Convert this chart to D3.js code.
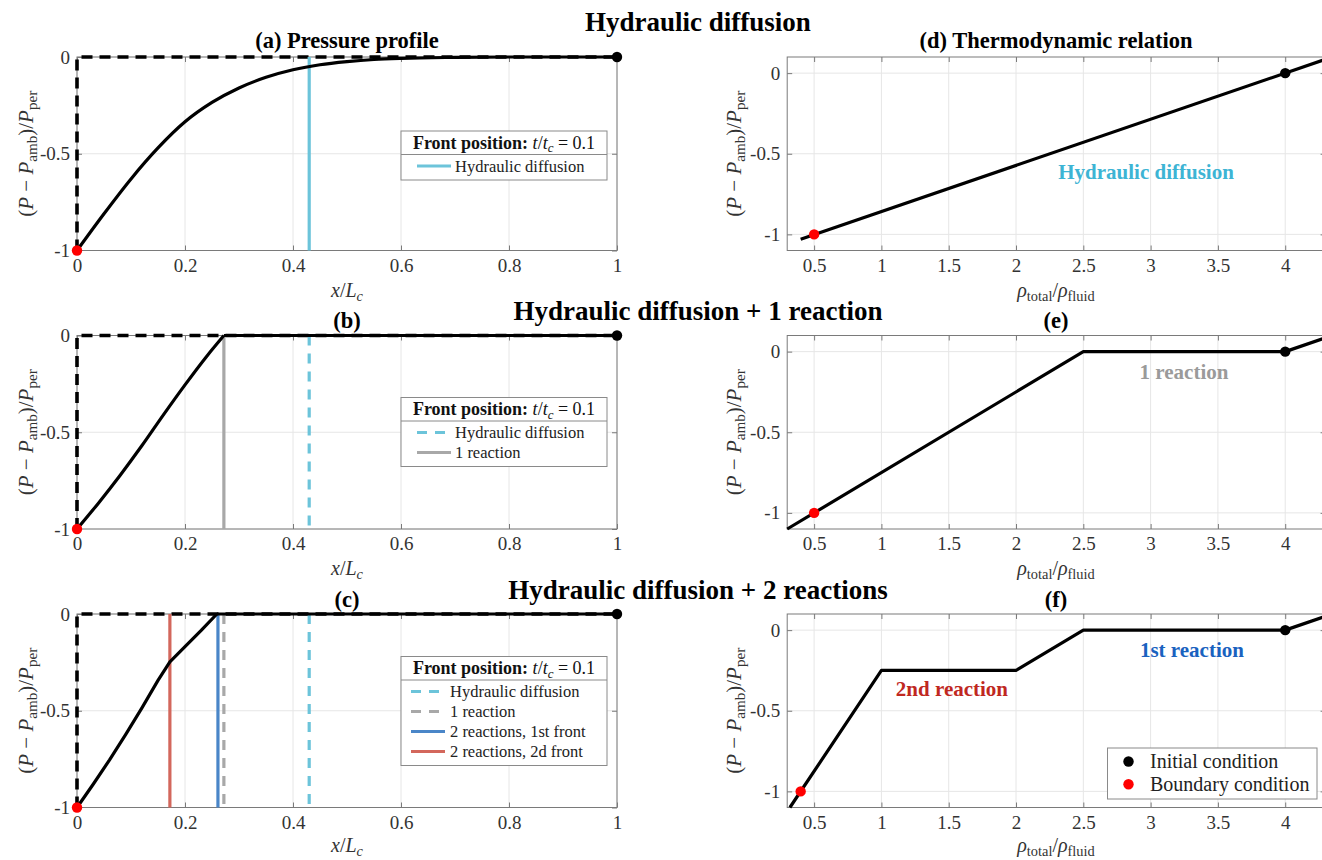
<!DOCTYPE html>
<html>
<head>
<meta charset="utf-8">
<script src="https://cdn.jsdelivr.net/npm/d3@7"></script>
<style>
body { margin: 0; background: #fff; }
text { font-family: "Liberation Serif", "DejaVu Serif", serif; }
</style>
</head>
<body>
<script>
// ---- values ----
var xTicksL = [0, 0.2, 0.4, 0.6, 0.8, 1];
var yTicksL = [-1, -0.5, 0];
var xTicksR = [0.5, 1, 1.5, 2, 2.5, 3, 3.5, 4];
var yTicksR = [-1, -0.5, 0];

// pressure profiles, x/Lc -> (P-Pamb)/Pper
var profA_x = [0, 0.05, 0.1, 0.15, 0.2, 0.25, 0.3, 0.35, 0.4, 0.45, 0.5, 0.55, 0.6, 0.7, 0.8, 1];
var profA_y = [-1, -0.81, -0.63, -0.47, -0.335, -0.235, -0.16, -0.105, -0.066, -0.04, -0.024, -0.013, -0.007, -0.002, 0, 0];
var profB_x = [0, 0.04, 0.08, 0.12, 0.16, 0.2, 0.24, 0.272];
var profB_y = [-1, -0.865, -0.722, -0.57, -0.41, -0.255, -0.108, 0];
var profC_x = [0, 0.03, 0.06, 0.09, 0.12, 0.15, 0.172, 0.2, 0.23, 0.259];
var profC_y = [-1, -0.88, -0.755, -0.623, -0.486, -0.343, -0.247, -0.169, -0.085, 0];
var initX = [0, 0, 1];
var initY = [-1, 0, 0];

// front positions at t/tc = 0.1
var frontDiff = 0.43;
var front1 = 0.272;
var front2first = 0.261;
var front2second = 0.172;

// thermodynamic relations, rho_total/rho_fluid -> (P-Pamb)/Pper
var relD_rho = [0.4, 4.3];
var relD_p = [-1.03, 0.086];
var relE_rho = [0.3, 2.5, 4, 4.3];
var relE_p = [-1.1, 0, 0, 0.086];
var relF_rho = [0.32, 1, 2, 2.5, 4, 4.3];
var relF_p = [-1.1, -0.25, -0.25, 0, 0, 0.086];

// initial / boundary condition points
var icL = [1, 0], bcL = [0, -1];
var icR = [4, 0];
var bcD = [0.5, -1], bcE = [0.5, -1], bcF = [0.4, -1];

var cCyan = "#6cc4da", cGray = "#a8a8a8", cBlue = "#4a86c8", cRed = "#d3675c";

var W = 1322, H = 860;
var svg = d3.select("body").append("svg").attr("width", W).attr("height", H);

var rowsY = [[57, 250.5], [335.5, 529], [614, 807.5]];
var xLabOff = [46, 46, 44.5];
var leftX = [77, 617], rightX = [787.2, 1325.6];

function zip(a, b) { return a.map(function(v, i) { return [v, b[i]]; }); }

// write a LaTeX-like label as tspans
function mathText(t, parts, size) {
  var shift = 0;
  parts.forEach(function(p) {
    var s = t.append("tspan").text(p.t);
    var want = p.sub ? size * 0.21 : 0;
    if (want !== shift) { s.attr("dy", want - shift); shift = want; }
    if (p.i) s.attr("font-style", "italic");
    if (p.b) s.attr("font-weight", "bold");
    if (p.sub) s.attr("font-size", size * 0.72);
  });
}

var yLabelParts = [{t: "("}, {t: "P", i: 1}, {t: " \u2212 "}, {t: "P", i: 1}, {t: "amb", sub: 1},
  {t: ")/"}, {t: "P", i: 1}, {t: "per", sub: 1}];
var xLabelL = [{t: "x", i: 1}, {t: "/"}, {t: "L", i: 1}, {t: "c", i: 1, sub: 1}];
var xLabelR = [{t: "\u03c1", i: 1}, {t: "total", sub: 1}, {t: "/"}, {t: "\u03c1", i: 1}, {t: "fluid", sub: 1}];

function makeAxes(xr, ri, xdom, ydom, xt, yt, xlab, xlabC, ylabX) {
  var row = rowsY[ri];
  var x = d3.scaleLinear().domain(xdom).range(xr);
  var y = d3.scaleLinear().domain(ydom).range([row[1], row[0]]);
  var g = svg.append("g");
  var h = row[1] - row[0], w = xr[1] - xr[0];

  // grid
  g.append("g").selectAll("line").data(xt).join("line")
    .attr("x1", x).attr("x2", x).attr("y1", row[0]).attr("y2", row[1])
    .attr("stroke", "#e6e6e6").attr("stroke-width", 1);
  g.append("g").selectAll("line").data(yt).join("line")
    .attr("y1", y).attr("y2", y).attr("x1", xr[0]).attr("x2", xr[1])
    .attr("stroke", "#e6e6e6").attr("stroke-width", 1);

  // box with inward ticks
  var ax = [
    g.append("g").attr("transform", "translate(0," + row[1] + ")")
      .call(d3.axisBottom(x).tickValues(xt).tickSize(-5).tickSizeOuter(0).tickPadding(8).tickFormat(function(d) { return String(d); })),
    g.append("g").attr("transform", "translate(0," + row[0] + ")")
      .call(d3.axisTop(x).tickValues(xt).tickSize(-5).tickSizeOuter(0).tickFormat("")),
    g.append("g").attr("transform", "translate(" + xr[0] + ",0)")
      .call(d3.axisLeft(y).tickValues(yt).tickSize(-5).tickSizeOuter(0).tickPadding(7).tickFormat(function(d) { return String(d); })),
    g.append("g").attr("transform", "translate(" + xr[1] + ",0)")
      .call(d3.axisRight(y).tickValues(yt).tickSize(-5).tickSizeOuter(0).tickFormat(""))
  ];
  ax.forEach(function(a) {
    a.select(".domain").remove();
    a.selectAll(".tick line").attr("stroke", "#7a7a7a");
    a.selectAll("text").attr("font-family", "Liberation Serif").attr("font-size", 19).attr("fill", "#333");
  });
  g.append("rect").attr("x", xr[0]).attr("y", row[0]).attr("width", w).attr("height", h)
    .attr("fill", "none").attr("stroke", "#7a7a7a").attr("stroke-width", 1);

  // labels
  var xl = g.append("text").attr("x", xlabC).attr("y", row[1] + xLabOff[ri])
    .attr("text-anchor", "middle").attr("font-size", 20).attr("fill", "#333");
  mathText(xl, xlab, 20);
  var yl = g.append("text").attr("transform", "translate(" + ylabX + "," + (row[0] + h / 2) + ") rotate(-90)")
    .attr("text-anchor", "middle").attr("font-size", 21).attr("fill", "#333");
  mathText(yl, yLabelParts, 21);
  return {g: g, x: x, y: y};
}

function dot(p, pt, color) {
  p.g.append("circle").attr("cx", p.x(pt[0])).attr("cy", p.y(pt[1])).attr("r", 5.2).attr("fill", color);
}

function vline(p, xv, color, dashed) {
  p.g.append("line").attr("x1", p.x(xv)).attr("x2", p.x(xv))
    .attr("y1", p.y(0)).attr("y2", p.y(-1))
    .attr("stroke", color).attr("stroke-width", 3.2)
    .attr("stroke-dasharray", dashed ? "10,8" : null);
}

function frontLegend(p, y0, entries, lx, tx) {
  var x0 = 401, x1 = 607;
  var sep = y0 + 23.5, y1 = sep + 11.5 + 20 * (entries.length - 1) + 14;
  var g = p.g.append("g");
  g.append("rect").attr("x", x0).attr("y", y0).attr("width", x1 - x0).attr("height", y1 - y0)
    .attr("fill", "#fff").attr("stroke", "#8a8a8a");
  g.append("line").attr("x1", x0).attr("x2", x1).attr("y1", sep).attr("y2", sep).attr("stroke", "#8a8a8a");
  var t = g.append("text").attr("x", (x0 + x1) / 2).attr("y", y0 + 17.5).attr("text-anchor", "middle")
    .attr("font-size", 18).attr("fill", "#111");
  mathText(t, [{t: "Front position: ", b: 1}, {t: "t", i: 1}, {t: "/"}, {t: "t", i: 1}, {t: "c", i: 1, sub: 1}, {t: " = 0.1"}], 18);
  entries.forEach(function(e, i) {
    var yy = sep + 11.5 + 20 * i;
    g.append("line").attr("x1", lx[0]).attr("x2", lx[1]).attr("y1", yy).attr("y2", yy)
      .attr("stroke", e.c).attr("stroke-width", 3.2).attr("stroke-dasharray", e.d ? "10,8" : null);
    g.append("text").attr("x", tx).attr("y", yy + 5.5).attr("font-size", 16.5).attr("fill", "#222").text(e.t);
  });
}

function drawPath(p, data, opts) {
  var gen = d3.line().x(function(d) { return p.x(d[0]); }).y(function(d) { return p.y(d[1]); })
    .curve(opts.curve || d3.curveLinear);
  p.g.append("path").datum(data).attr("d", gen).attr("fill", "none")
    .attr("stroke", opts.color || "#000").attr("stroke-width", opts.w || 3.2)
    .attr("stroke-dasharray", opts.dash || null).attr("stroke-linejoin", "round");
}

// ---- left column: pressure profiles ----
var pa = makeAxes(leftX, 0, [0, 1], [-1, 0], xTicksL, yTicksL, xLabelL, 347, 33);
var pb = makeAxes(leftX, 1, [0, 1], [-1, 0], xTicksL, yTicksL, xLabelL, 347, 33);
var pc = makeAxes(leftX, 2, [0, 1], [-1, 0], xTicksL, yTicksL, xLabelL, 347, 33);

[pa, pb, pc].forEach(function(p) { drawPath(p, zip(initX, initY), {dash: "11,7", w: 3.6}); });

vline(pa, frontDiff, cCyan, false);
vline(pb, frontDiff, cCyan, true);
vline(pb, front1, cGray, false);
vline(pc, frontDiff, cCyan, true);
vline(pc, front1, cGray, true);
vline(pc, front2first, cBlue, false);
vline(pc, front2second, cRed, false);

drawPath(pa, zip(profA_x, profA_y), {curve: d3.curveMonotoneX});
drawPath(pb, zip(profB_x, profB_y), {curve: d3.curveMonotoneX});
drawPath(pb, [[front1, 0], icL], {});
drawPath(pc, zip(profC_x, profC_y), {});
drawPath(pc, [[profC_x[profC_x.length - 1], 0], icL], {});

[pa, pb, pc].forEach(function(p) { dot(p, bcL, "#f00"); dot(p, icL, "#000"); });

frontLegend(pa, 131, [{t: "Hydraulic diffusion", c: cCyan}], [417, 451], 455);
frontLegend(pb, 397.5, [{t: "Hydraulic diffusion", c: cCyan, d: 1}, {t: "1 reaction", c: cGray}], [417, 451], 455);
frontLegend(pc, 656.5, [{t: "Hydraulic diffusion", c: cCyan, d: 1}, {t: "1 reaction", c: cGray, d: 1},
  {t: "2 reactions, 1st front", c: cBlue}, {t: "2 reactions, 2d front", c: cRed}], [411, 445], 450);

// ---- right column: thermodynamic relations ----
var pd = makeAxes(rightX, 0, [0.3, 4.3], [-1.1, 0.1], xTicksR, yTicksR, xLabelR, 1056, 741);
var pe = makeAxes(rightX, 1, [0.3, 4.3], [-1.1, 0.1], xTicksR, yTicksR, xLabelR, 1056, 741);
var pf = makeAxes(rightX, 2, [0.3, 4.3], [-1.1, 0.1], xTicksR, yTicksR, xLabelR, 1056, 741);

drawPath(pd, zip(relD_rho, relD_p), {});
drawPath(pe, zip(relE_rho, relE_p), {});
drawPath(pf, zip(relF_rho, relF_p), {});
dot(pd, bcD, "#f00"); dot(pd, icR, "#000");
dot(pe, bcE, "#f00"); dot(pe, icR, "#000");
dot(pf, bcF, "#f00"); dot(pf, icR, "#000");

function note(p, rho, pv, txt, color) {
  p.g.append("text").attr("x", p.x(rho)).attr("y", p.y(pv)).attr("text-anchor", "middle")
    .attr("font-size", 21).attr("font-weight", "bold").attr("fill", color).text(txt);
}
note(pd, 2.966, -0.657, "Hydraulic diffusion", "#3db4d4");
note(pe, 3.248, -0.17, "1 reaction", "#9a9a9a");
note(pf, 1.524, -0.409, "2nd reaction", "#c0281f");
note(pf, 3.307, -0.167, "1st reaction", "#1a62bf");

// condition legend in (f)
var lg = pf.g.append("g");
lg.append("rect").attr("x", 1107.5).attr("y", 748).attr("width", 209.5).attr("height", 51)
  .attr("fill", "#fff").attr("stroke", "#8a8a8a");
[["Initial condition", "#000"], ["Boundary condition", "#f00"]].forEach(function(e, i) {
  var yy = 761.5 + 22.7 * i;
  lg.append("circle").attr("cx", 1128.5).attr("cy", yy).attr("r", 5.2).attr("fill", e[1]);
  lg.append("text").attr("x", 1150).attr("y", yy + 6.5).attr("font-size", 20).attr("fill", "#222").text(e[0]);
});

// ---- titles ----
function title(x, y, txt, size) {
  svg.append("text").attr("x", x).attr("y", y).attr("text-anchor", "middle")
    .attr("font-size", size).attr("font-weight", "bold").attr("fill", "#000").text(txt);
}
title(698, 31, "Hydraulic diffusion", 27);
title(698, 320, "Hydraulic diffusion + 1 reaction", 27);
title(698, 599, "Hydraulic diffusion + 2 reactions", 27);
title(347, 48, "(a) Pressure profile", 22.5);
title(1056, 48, "(d) Thermodynamic relation", 22.5);
title(347, 328, "(b)", 22.5);
title(1056, 328, "(e)", 22.5);
title(347, 607, "(c)", 22.5);
title(1056, 607, "(f)", 22.5);
</script>
</body>
</html>
